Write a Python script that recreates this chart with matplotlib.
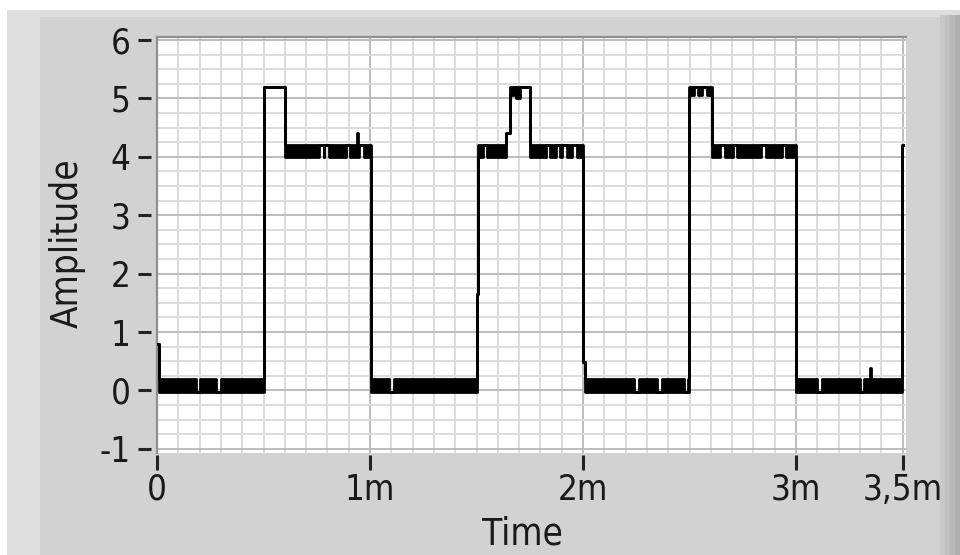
import matplotlib
matplotlib.use('Agg')
import matplotlib.pyplot as plt
from matplotlib import font_manager as fm
from matplotlib.ticker import MultipleLocator, FixedLocator
from matplotlib.lines import Line2D
from matplotlib.patches import Rectangle

# ---------------- data (time in ms) ----------------
x_ticks = [0, 1, 2, 3, 3.5]
x_labels = ['0', '1m', '2m', '3m', '3,5m']
y_ticks = [-1, 0, 1, 2, 3, 4, 5, 6]
y_labels = ['-1', '0', '1', '2', '3', '4', '5', '6']

# breakpoints of the noisy trace: upper and lower edge of the drawn band
t_ms = [0.000, 0.010, 0.181, 0.203, 0.279, 0.301, 0.500, 0.603,
        0.761, 0.783, 0.785, 0.807, 0.886, 0.908, 0.937, 0.942, 0.949, 0.971,
        1.003, 1.090, 1.112, 1.500, 1.506, 1.529, 1.551, 1.640, 1.655,
        1.675, 1.685, 1.705, 1.750, 1.824, 1.846, 1.871, 1.893, 1.902, 1.924,
        1.949, 1.971, 2.000, 2.008, 2.239, 2.261, 2.349, 2.371, 2.472, 2.493,
        2.495, 2.520, 2.540, 2.560, 2.580, 2.607, 2.642, 2.664, 2.703, 2.725,
        2.835, 2.857, 2.933, 2.955, 3.000, 3.099, 3.121, 3.299, 3.321, 3.348,
        3.353, 3.498, 3.503]
hi = [0.80, 0.19, -0.02, 0.19, -0.02, 0.19, 5.20, 4.20,
      4.20, 4.20, 4.20, 4.20, 4.20, 4.20, 4.41, 4.20, 4.20, 4.20,
      0.19, -0.02, 0.19, 1.65, 4.20, 4.20, 4.20, 4.41, 5.20,
      5.20, 5.20, 5.20, 4.20, 4.20, 4.20, 4.20, 4.20, 4.20, 4.20,
      4.20, 4.20, 0.49, 0.19, -0.02, 0.19, -0.02, 0.19, -0.02, 0.19,
      5.20, 5.20, 5.20, 5.20, 5.20, 4.20, 4.20, 4.20, 4.20, 4.20,
      4.20, 4.20, 4.20, 4.20, 0.19, -0.02, 0.19, -0.02, 0.19, 0.38,
      0.19, 4.20, 4.20]
lo = [0.80, -0.02, -0.02, -0.02, -0.02, -0.02, 5.20, 4.00,
      4.20, 4.00, 4.20, 4.00, 4.20, 4.00, 4.00, 4.00, 4.20, 4.00,
      -0.02, -0.02, -0.02, 1.65, 4.00, 4.20, 4.00, 4.41, 5.05,
      5.20, 5.00, 5.20, 4.00, 4.20, 4.00, 4.20, 4.00, 4.20, 4.00,
      4.20, 4.00, 0.49, -0.02, -0.02, -0.02, -0.02, -0.02, -0.02, -0.02,
      5.05, 5.20, 5.05, 5.20, 5.05, 4.00, 4.20, 4.00, 4.20, 4.00,
      4.20, 4.00, 4.20, 4.00, -0.02, -0.02, -0.02, -0.02, -0.02, -0.02,
      -0.02, 4.20, 4.20]

# ---------------- font: prefer a narrow sans ----------------
def pick_font():
    entries = fm.fontManager.ttflist
    def regular(e):
        return e.style == 'normal' and e.weight in (400, 'normal', 'regular')
    for e in entries:
        if e.name == 'Liberation Sans Narrow' and regular(e):
            return e.name, e.stretch
    for fam in ['Noto Sans', 'Roboto', 'Open Sans', 'DejaVu Sans', 'Lato', 'Inter']:
        for e in entries:
            if e.name == fam and e.stretch == 'condensed' and regular(e):
                return e.name, e.stretch
    for e in entries:
        n = e.name.lower()
        if ('narrow' in n or 'condensed' in n) and regular(e) and 'mono' not in n and 'serif' not in n:
            return e.name, e.stretch
    return 'DejaVu Sans', 'normal'

FONT_NAME, FONT_STRETCH = pick_font()
plt.rcParams['font.family'] = [FONT_NAME, 'DejaVu Sans']
plt.rcParams['font.stretch'] = FONT_STRETCH
plt.rcParams['axes.unicode_minus'] = False

W, H = 960, 555
fig = plt.figure(figsize=(9.6, 5.55), dpi=100)
fig.patch.set_facecolor('#d2d2d2')
renderer = fig.canvas.get_renderer()

def fitted_size(text, target_w, size_h):
    t = fig.text(0, 0, text, fontsize=30)
    w = t.get_window_extent(renderer).width
    t.remove()
    size_w = 30 * target_w / w
    return (size_w * size_h) ** 0.5

lab_size = fitted_size('Amplitude', 152, 29.5)
tick_size = fitted_size('3,5m', 73, 27.5)

def frect(x0, y0, x1, y1, color):
    fig.add_artist(Rectangle((x0 / W, 1 - y1 / H), (x1 - x0) / W, (y1 - y0) / H,
                             transform=fig.transFigure, facecolor=color,
                             edgecolor='none', zorder=-10))

frect(0, 0, 960, 10, 'white')
frect(7, 10, 960, 17, '#dddddd')
frect(0, 0, 7, 555, 'white')
frect(7, 10, 40, 555, '#dfdfdf')
for i, c in enumerate(['#c8c8c8', '#c0c0c0', '#b8b8b8', '#b0b0b0']):
    frect(940 + 5 * i, 15, 945 + 5 * i, 555, c)

ax = fig.add_axes([157 / W, 1 - 453 / H, (906 - 157) / W, (453 - 37) / H])
ax.set_facecolor('white')
ax.set_xlim(0, 3.516)
ax.set_ylim(-1.07, 6.05)

for s in ax.spines.values():
    s.set_visible(False)
ax.spines['left'].set_position(('outward', 4.5))
ax.spines['bottom'].set_position(('outward', 1.5))

ax.xaxis.set_major_locator(FixedLocator(x_ticks))
ax.set_xticklabels(x_labels)
ax.yaxis.set_major_locator(FixedLocator(y_ticks))
ax.set_yticklabels(y_labels)
ax.xaxis.set_minor_locator(MultipleLocator(0.1))
ax.yaxis.set_minor_locator(MultipleLocator(0.25))

ax.set_axisbelow(True)
ax.grid(which='minor', color='#dcdcdc', lw=1.4)
ax.grid(which='major', color='#bcbcbc', lw=1.4)

ax.tick_params(which='minor', length=0)
ax.tick_params(axis='y', which='major', direction='out', length=9.4, width=2.2,
               color='#222222', pad=5, labelsize=tick_size, labelcolor='#1a1a1a')
ax.tick_params(axis='x', which='major', direction='out', length=10.8, width=2.2,
               color='#222222', pad=2, labelsize=tick_size, labelcolor='#1a1a1a')

ax.add_line(Line2D([0, 0], [0, 1], transform=ax.transAxes, color='#8f8f8f',
                   lw=1.6, clip_on=False))
ax.add_line(Line2D([0, 1], [1, 1], transform=ax.transAxes, color='#8f8f8f',
                   lw=1.6, clip_on=False))

ax.fill_between(t_ms, lo, hi, step='post', color='black', lw=0, zorder=3)
ax.step(t_ms, hi, where='post', color='black', lw=2.0, zorder=4)
ax.step(t_ms, lo, where='post', color='black', lw=2.0, zorder=4)

fig.text(67 / W, 1 - 243 / H, 'Amplitude', rotation=90, fontsize=lab_size,
         ha='center', va='center', color='#1a1a1a')
fig.text(522 / W, 1 - 534 / H, 'Time', fontsize=lab_size,
         ha='center', va='center', color='#1a1a1a')

fig.savefig('out.png', dpi=100, facecolor=fig.get_facecolor())
